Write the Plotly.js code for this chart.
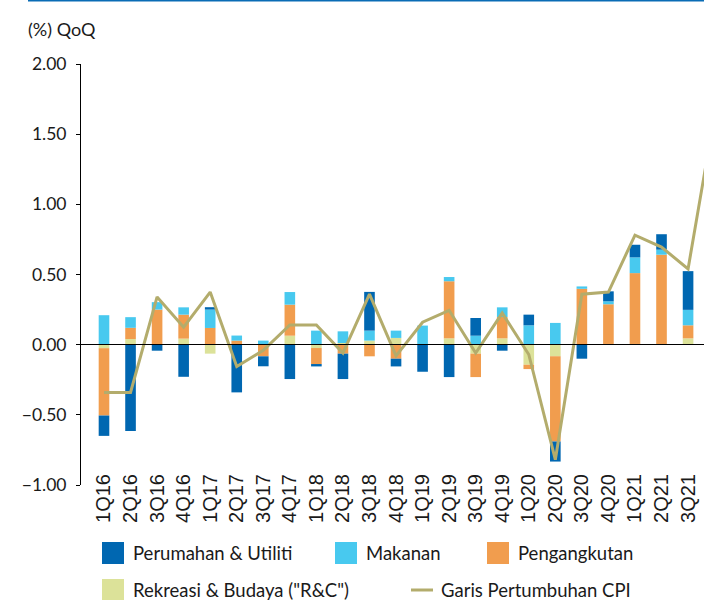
<!DOCTYPE html>
<html>
<head>
<meta charset="utf-8">
<script src="https://cdn.plot.ly/plotly-3.0.1.min.js"></script>
<style>
html,body{margin:0;padding:0;background:#fff;}
#chart{width:704px;height:600px;}
</style>
</head>
<body>
<div id="chart"></div>
<script>
// ---- data ----
const categories = ['1Q16','2Q16','3Q16','4Q16','1Q17','2Q17','3Q17','4Q17','1Q18','2Q18','3Q18','4Q18',
  '1Q19','2Q19','3Q19','4Q19','1Q20','2Q20','3Q20','4Q20','1Q21','2Q21','3Q21','4Q21'];
const barCategories = categories.slice(0, 23);

const perumahan = [-0.145,-0.615,-0.043,-0.229,0.017,-0.34,-0.071,-0.245,-0.017,-0.181,0.276,-0.055,
  -0.193,-0.231,0.126,-0.043,0.076,-0.143,-0.10,0.071,0.09,0.11,0.276];
const makanan = [0.21,0.076,0.053,0.052,0.131,0.036,0.029,0.09,0.10,0.083,0.071,0.052,
  0.136,0.03,0.064,0.069,0.138,0.155,0.017,0.021,0.112,0.036,0.11];
const pengangkutan = [-0.48,0.08,0.25,0.171,0.119,0.029,-0.083,0.221,-0.114,-0.064,-0.083,-0.10,
  0,0.407,-0.167,0.152,-0.031,-0.607,0.398,0.283,0.505,0.636,0.093];
const rekreasi = [-0.025,0.04,0,0.043,-0.064,0,0,0.064,-0.024,0.012,0.029,0.048,
  0,0.045,-0.064,0.045,-0.143,-0.083,0,0.005,0.005,0.005,0.045];
const cpi = [-0.34,-0.34,0.34,0.125,0.375,-0.155,-0.04,0.14,0.14,-0.06,0.36,-0.08,
  0.16,0.245,-0.06,0.225,-0.07,-0.82,0.36,0.375,0.78,0.695,0.54,1.64];

const yTickVals = [-1, -0.5, 0, 0.5, 1, 1.5, 2];
const names = {
  per: 'Perumahan & Utiliti',
  mak: 'Makanan',
  pen: 'Pengangkutan',
  rek: 'Rekreasi & Budaya ("R&C")',
  cpi: 'Garis Pertumbuhan CPI'
};
const unitLabel = '(%) QoQ';

// ---- styles ----
const colors = {per:'#0067B1', mak:'#48C9EF', pen:'#F19D4E', rek:'#DCE299', cpi:'#B3AC6C'};
const textColor = '#1a1a1a';
const W = 704, H = 600;
const M = {l:81, r:0, t:64, b:115};
const PW = W - M.l - M.r, PH = H - M.t - M.b;
const px = x => (x - M.l) / PW;
const py = y => (H - M.b - y) / PH;
const legendFont = {family:'Lato', size:18.5, color:textColor};

function barTrace(key, vals){
  return {type:'bar', name:names[key], x:barCategories, y:vals,
    marker:{color:colors[key], line:{width:0}}, showlegend:false, hoverinfo:'x+y+name'};
}

const traces = [
  barTrace('rek', rekreasi),
  barTrace('pen', pengangkutan),
  barTrace('mak', makanan),
  barTrace('per', perumahan),
  {type:'scatter', mode:'lines', name:names.cpi, x:categories, y:cpi,
   line:{color:colors.cpi, width:3}, showlegend:false}
];

// custom legend
const legendItems = [
  {key:'per', kind:'box', x:102, y:553},
  {key:'mak', kind:'box', x:335, y:553},
  {key:'pen', kind:'box', x:487, y:553},
  {key:'rek', kind:'box', x:102, y:590},
  {key:'cpi', kind:'line', x:411, y:590}
];
const shapes = [
  {type:'line', xref:'paper', yref:'paper', x0:px(28), x1:px(704), y0:py(0.8), y1:py(0.8),
   line:{color:'#0a6cb5', width:1.6}}
];
const annotations = [
  {xref:'paper', yref:'paper', x:px(26), y:py(29), xanchor:'left', yanchor:'middle',
   text:unitLabel, showarrow:false, font:{family:'Lato', size:18, color:textColor}}
];
legendItems.forEach(it => {
  if (it.kind === 'box') {
    shapes.push({type:'rect', xref:'paper', yref:'paper', x0:px(it.x), x1:px(it.x+22),
      y0:py(it.y-11), y1:py(it.y+11), fillcolor:colors[it.key], line:{width:0}});
    annotations.push({xref:'paper', yref:'paper', x:px(it.x+29), y:py(it.y), xanchor:'left', yanchor:'middle',
      text:names[it.key], showarrow:false, font:legendFont});
  } else {
    shapes.push({type:'line', xref:'paper', yref:'paper', x0:px(it.x), x1:px(it.x+22),
      y0:py(it.y), y1:py(it.y), line:{color:colors[it.key], width:3}});
    annotations.push({xref:'paper', yref:'paper', x:px(it.x+28), y:py(it.y), xanchor:'left', yanchor:'middle',
      text:names[it.key], showarrow:false, font:legendFont});
  }
});

const layout = {
  width:W, height:H,
  margin:M,
  paper_bgcolor:'#fff', plot_bgcolor:'#fff',
  barmode:'relative',
  bargap:0.6,
  showlegend:false,
  xaxis:{type:'category', categoryorder:'array', categoryarray:categories,
    range:[-0.866, 22.6], showgrid:false, showline:false, zeroline:false, ticks:'',
    tickangle:-90, ticklabelstandoff:-16,
    tickfont:{family:'Liberation Sans, Arial', size:20, color:textColor}, automargin:false},
  yaxis:{range:[-1, 2], tickvals:yTickVals, tickformat:'.2f', showgrid:false,
    showline:true, linecolor:'#000', linewidth:1, ticks:'outside', ticklen:4, tickcolor:'#000',
    zeroline:true, zerolinecolor:'#000', zerolinewidth:1.5, zerolinelayer:'above traces',
    ticklabelstandoff:6,
    tickfont:{family:'Lato', size:17.5, color:textColor}, automargin:false},
  shapes:shapes,
  annotations:annotations
};

Plotly.newPlot('chart', traces, layout, {displayModeBar:false, staticPlot:true});
</script>
</body>
</html>
